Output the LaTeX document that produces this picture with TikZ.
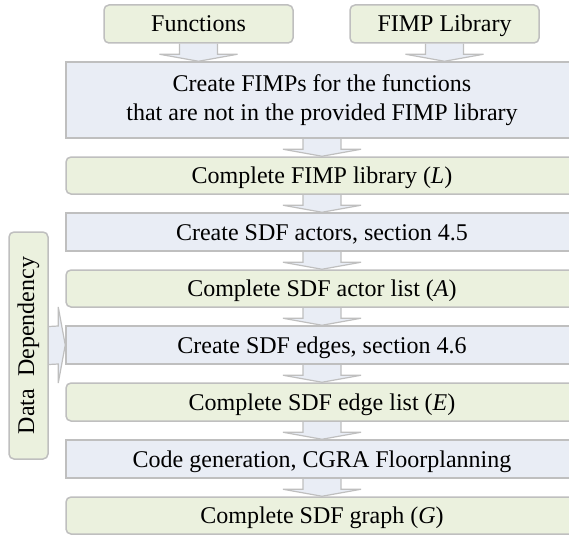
\documentclass[tikz,border=0pt]{standalone}
\usepackage{fontspec}
\setmainfont{Liberation Serif}
\usetikzlibrary{calc,backgrounds}
\definecolor{boxgreen}{HTML}{EBF1DE}
\definecolor{boxblue}{HTML}{E9EDF5}
\definecolor{boxline}{HTML}{BFBFBF}
\tikzset{
  basebox/.style={draw=boxline, line width=1.5pt, font=\fontsize{24}{29}\selectfont,
    align=center, inner sep=0pt},
  greenbox/.style={basebox, fill=boxgreen, rounded corners=5pt},
  bluebox/.style={basebox, fill=boxblue},
  mainw/.style={minimum width=512pt},
  oneline/.style={text height=16pt, text depth=0pt},
  flowarrow/.style={draw=boxline, line width=1.2pt, fill=boxblue, line join=miter},
}
% block arrow pointing down from #1 to the top edge of #2
\newcommand\flowdown[2]{%
  \coordinate (tip) at (#1.south |- #2.north);
  \filldraw[flowarrow] ($(#1.south)+(-19pt,0)$) -- ($(tip)+(-19pt,7pt)$)
    -- ($(tip)+(-39pt,7pt)$) -- (tip) -- ($(tip)+(39pt,7pt)$)
    -- ($(tip)+(19pt,7pt)$) -- ($(#1.south)+(19pt,0)$);
}
% block arrow pointing right from #1 to the left edge of #2
\newcommand\flowright[2]{%
  \filldraw[flowarrow] ($(#1.east)+(0,19pt)$) -- ($(#2.west)+(-7pt,19pt)$)
    -- ($(#2.west)+(-7pt,38pt)$) -- (#2.west) -- ($(#2.west)+(-7pt,-38pt)$)
    -- ($(#2.west)+(-7pt,-19pt)$) -- ($(#1.east)+(0,-19pt)$);
}
\begin{document}
\begin{tikzpicture}[x=1pt,y=-1pt]
\useasboundingbox (0,0) rectangle (569,535);
\clip (0,0) rectangle (569,535);

\node[greenbox, oneline, minimum width=189pt, minimum height=38pt] (fun) at (198.5,24) {Functions};
\node[greenbox, oneline, minimum width=189pt, minimum height=38pt] (lib) at (444.5,24) {FIMP Library};

\node[bluebox, mainw, minimum height=76pt] (b1) at (322,100)
  {Create FIMPs for the functions\\that are not in the provided FIMP library};
\node[greenbox, oneline, mainw, minimum height=37pt] (b2) at (322,175.5) {Complete FIMP library (\textit{L})};
\node[bluebox, oneline, mainw, minimum height=38pt] (b3) at (322,232) {Create SDF actors, section 4.5};
\node[greenbox, oneline, mainw, minimum height=37pt] (b4) at (322,288.5) {Complete SDF actor list (\textit{A})};
\node[bluebox, oneline, mainw, minimum height=38pt] (b5) at (322,345) {Create SDF edges, section 4.6};
\node[greenbox, oneline, mainw, minimum height=38pt] (b6) at (322,402) {Complete SDF edge list (\textit{E})};
\node[bluebox, oneline, mainw, minimum height=38pt] (b7) at (322,459) {Code generation, CGRA Floorplanning};
\node[greenbox, oneline, mainw, minimum height=37pt] (b8) at (322,515.5) {Complete SDF graph (\textit{G})};

\node[greenbox, minimum width=39pt, minimum height=227pt] (dd) at (28.5,345.5)
  {\rotatebox{90}{Data\ \ Dependency}};

\begin{scope}[on background layer]
  \flowdown{fun}{b1}
  \flowdown{lib}{b1}
  \flowdown{b1}{b2}
  \flowdown{b2}{b3}
  \flowdown{b3}{b4}
  \flowdown{b4}{b5}
  \flowdown{b5}{b6}
  \flowdown{b6}{b7}
  \flowdown{b7}{b8}
  \flowright{dd}{b5}
\end{scope}
\end{tikzpicture}
\end{document}
